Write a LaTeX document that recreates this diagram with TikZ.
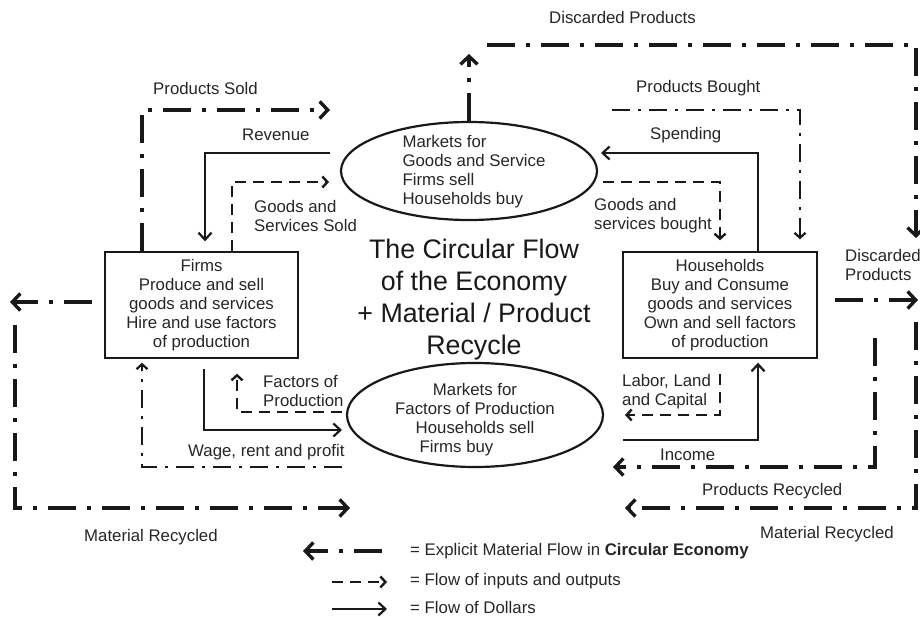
\documentclass[tikz,border=0pt]{standalone}
\usepackage{fontspec}
\setmainfont{Liberation Sans}
\usetikzlibrary{arrows.meta,shapes.geometric}
\begin{document}
\begin{tikzpicture}[x=1pt,y=-1pt,
  lbl/.style={anchor=west,inner sep=0pt,align=left,font=\fontsize{16.8}{19}\selectfont,text=black!85},
  boxnode/.style={draw=black!90,line width=1.4pt,minimum width=193pt,minimum height=106pt,inner sep=0pt,align=center,font=\fontsize{16.8}{19}\selectfont,text=black!85},
  ellnode/.style={ellipse,draw=black!90,line width=2.2pt,inner sep=0pt},
  mat/.style={draw=black!90,line width=3.8pt,dash pattern=on 28pt off 11pt on 4pt off 11pt,-{Straight Barb[length=8pt,width=17pt,line width=3.4pt]}},
  matthin/.style={draw=black!90,line width=2.5pt,dash pattern=on 18pt off 8pt on 3pt off 8pt,-{Straight Barb[length=5pt,width=11pt,line width=2.2pt]}},
  io/.style={draw=black!90,line width=2.8pt,dash pattern=on 11pt off 7pt,-{Straight Barb[length=5pt,width=11pt,line width=2.4pt]}},
  money/.style={draw=black!90,line width=2.4pt,-{Straight Barb[length=7pt,width=13pt,line width=2.2pt]}}
]
\useasboundingbox (0,0) rectangle (920,617);

% main nodes
\node[boxnode] (firms) at (201.5,305) {Firms\\Produce and sell\hspace*{18pt}\\goods and services\\Hire and use factors\\of production};
\node[boxnode,minimum width=194pt] (hh) at (720,305) {Households\\Buy and Consume\\goods and services\\Own and sell factors\\of production};
\node[ellnode,minimum width=256pt,minimum height=98pt] (mg) at (469,171) {};
\node[lbl,anchor=center] (mgt) at (474,172) {Markets for\\Goods and Service\\Firms sell\\Households buy};
\node[ellnode,minimum width=256pt,minimum height=104pt] (mf) at (475,415) {};
\node[lbl,anchor=center,align=center] (mft) at (475,420) {Markets for\\Factors of Production\\Households sell\\Firms buy\hspace*{37pt}};
\node[anchor=center,inner sep=0pt,align=center,font=\fontsize{26.8}{32}\selectfont,text=black!90] (title) at (474,300) {The Circular Flow\\of the Economy\\+ Material / Product\\Recycle};

% free ends
\coordinate (psE) at (330,110);
\coordinate (revS) at (330,153);
\coordinate (gsE) at (329,182);
\coordinate (dtE) at (469,54);
\coordinate (dlS) at (487,45);
\coordinate (dlE) at (916,238);
\coordinate (pbS) at (612,110);
\coordinate (spE) at (601,153);
\coordinate (gbS) at (603,182);
\coordinate (hrS) at (835,300);
\coordinate (hrE) at (918,300);
\coordinate (rlS) at (916,322);
\coordinate (prE) at (625,508);
\coordinate (idS) at (875,338);
\coordinate (idE) at (613,467);
\coordinate (isS) at (623,440);
\coordinate (llE) at (625,415);
\coordinate (flS) at (92,302);
\coordinate (flE) at (10,302);
\coordinate (lbS) at (15,325);
\coordinate (mrE) at (350,508);
\coordinate (wS) at (342,467);
\coordinate (fsE) at (342,430);
\coordinate (fdS) at (342,412);

% top-left flows
\draw[mat] (firms.north -| 142,0) |- (psE);
\draw[money,shorten >=10pt] (revS) -| (firms.north -| 205,0);
\draw[io] (firms.north -| 232,0) |- (gsE);

% discarded products (top)
\draw[mat] (mg.north) -- (dtE);
\draw[mat] (dlS) -| (dlE);

% top-right flows
\draw[matthin,shorten >=12pt] (pbS) -| (hh.north -| 800,0);
\draw[money] (hh.north -| 758,0) |- (spE);
\draw[io,shorten >=11pt] (gbS) -| (hh.north -| 720,0);

% right side
\draw[mat] (hrS) -- (hrE);
\draw[mat] (rlS) |- (prE);
\draw[mat] (idS) |- (idE);
\draw[money,shorten >=4pt] (isS) -| (hh.south -| 758,0);
\draw[io,shorten <=15pt] (hh.south -| 720,0) |- (llE);

% left side
\draw[mat] (flS) -- (flE);
\draw[mat] (lbS) |- (mrE);
\draw[matthin,shorten >=4pt] (wS) -| (firms.south -| 142,0);
\draw[money,shorten <=10pt] (firms.south -| 204,0) |- (fsE);
\draw[io,shorten >=15pt] (fdS) -| (firms.south -| 237,0);

% labels
\node[lbl] (l1) at (153,88) {Products Sold};
\node[lbl] (l2) at (242,135) {Revenue};
\node[lbl] (l3) at (254,215.5) {Goods and\\Services Sold};
\node[lbl] (l4) at (549,18) {Discarded Products};
\node[lbl] (l5) at (636,88) {Products Bought};
\node[lbl] (l6) at (650,135) {Spending};
\node[lbl] (l7) at (594,215.5) {Goods and\\services bought};
\node[lbl] (l8) at (845,265) {Discarded\\Products};
\node[lbl] (l9) at (263,391) {Factors of\\Production};
\node[lbl] (l10) at (188,452) {Wage, rent and profit};
\node[lbl] (l11) at (84,537) {Material Recycled};
\node[lbl] (l12) at (622,392) {Labor, Land\\and Capital};
\node[lbl] (l13) at (660,455) {Income};
\node[lbl] (l14) at (702,491) {Products Recycled};
\node[lbl] (l15) at (760,534) {Material Recycled};

% legend
\coordinate (lg1a) at (382,551);
\coordinate (lg1b) at (303,551);
\coordinate (lg2a) at (332,582);
\coordinate (lg2b) at (387,582);
\coordinate (lg3a) at (332,609);
\coordinate (lg3b) at (387,609);
\draw[mat] (lg1a) -- (lg1b);
\draw[io] (lg2a) -- (lg2b);
\draw[money] (lg3a) -- (lg3b);
\node[lbl] (t1) at (410,551) {= Explicit Material Flow in \textbf{Circular Economy}};
\node[lbl] (t2) at (410,581) {= Flow of inputs and outputs};
\node[lbl] (t3) at (410,607) {= Flow of Dollars};
\end{tikzpicture}
\end{document}
